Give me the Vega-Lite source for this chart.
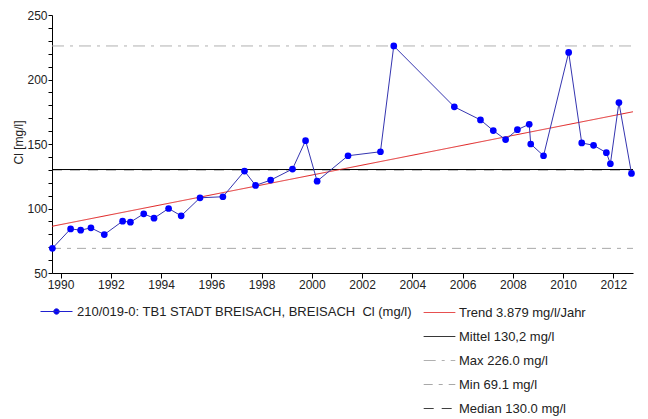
{
  "$schema": "https://vega.github.io/schema/vega-lite/v6.json",
  "autosize": {"type": "none"},
  "width": 581,
  "height": 258,
  "padding": {"left": 52, "top": 15, "right": 15, "bottom": 146},
  "background": "white",
  "config": {
    "view": {"stroke": null},
    "font": "Liberation Sans",
    "axis": {"grid": false, "domainColor": "#000", "tickColor": "#000", "labelColor": "#222", "labelFontSize": 12, "labelFont": "Liberation Sans", "titleFont": "Liberation Sans", "titleFontWeight": "normal", "titleColor": "#222"},
    "legend": {"labelFont": "Liberation Sans", "labelFontSize": 13, "labelColor": "#222", "labelLimit": 600, "padding": 0, "offset": 0, "title": null}
  },
  "datasets": {
    "obs": [
      {"date": 1989.675, "v": 69.1, "s": "210/019-0: TB1 STADT BREISACH, BREISACH \u00a0Cl (mg/l)"},
      {"date": 1990.40, "v": 84.2, "s": "210/019-0: TB1 STADT BREISACH, BREISACH \u00a0Cl (mg/l)"},
      {"date": 1990.80, "v": 83.2, "s": "210/019-0: TB1 STADT BREISACH, BREISACH \u00a0Cl (mg/l)"},
      {"date": 1991.21, "v": 85.0, "s": "210/019-0: TB1 STADT BREISACH, BREISACH \u00a0Cl (mg/l)"},
      {"date": 1991.74, "v": 79.8, "s": "210/019-0: TB1 STADT BREISACH, BREISACH \u00a0Cl (mg/l)"},
      {"date": 1992.47, "v": 90.2, "s": "210/019-0: TB1 STADT BREISACH, BREISACH \u00a0Cl (mg/l)"},
      {"date": 1992.78, "v": 89.4, "s": "210/019-0: TB1 STADT BREISACH, BREISACH \u00a0Cl (mg/l)"},
      {"date": 1993.31, "v": 95.9, "s": "210/019-0: TB1 STADT BREISACH, BREISACH \u00a0Cl (mg/l)"},
      {"date": 1993.72, "v": 92.5, "s": "210/019-0: TB1 STADT BREISACH, BREISACH \u00a0Cl (mg/l)"},
      {"date": 1994.30, "v": 100.0, "s": "210/019-0: TB1 STADT BREISACH, BREISACH \u00a0Cl (mg/l)"},
      {"date": 1994.80, "v": 94.3, "s": "210/019-0: TB1 STADT BREISACH, BREISACH \u00a0Cl (mg/l)"},
      {"date": 1995.55, "v": 108.3, "s": "210/019-0: TB1 STADT BREISACH, BREISACH \u00a0Cl (mg/l)"},
      {"date": 1996.46, "v": 109.1, "s": "210/019-0: TB1 STADT BREISACH, BREISACH \u00a0Cl (mg/l)"},
      {"date": 1997.32, "v": 129.0, "s": "210/019-0: TB1 STADT BREISACH, BREISACH \u00a0Cl (mg/l)"},
      {"date": 1997.76, "v": 117.9, "s": "210/019-0: TB1 STADT BREISACH, BREISACH \u00a0Cl (mg/l)"},
      {"date": 1998.36, "v": 122.0, "s": "210/019-0: TB1 STADT BREISACH, BREISACH \u00a0Cl (mg/l)"},
      {"date": 1999.23, "v": 130.6, "s": "210/019-0: TB1 STADT BREISACH, BREISACH \u00a0Cl (mg/l)"},
      {"date": 1999.75, "v": 152.6, "s": "210/019-0: TB1 STADT BREISACH, BREISACH \u00a0Cl (mg/l)"},
      {"date": 2000.21, "v": 121.2, "s": "210/019-0: TB1 STADT BREISACH, BREISACH \u00a0Cl (mg/l)"},
      {"date": 2001.44, "v": 140.9, "s": "210/019-0: TB1 STADT BREISACH, BREISACH \u00a0Cl (mg/l)"},
      {"date": 2002.73, "v": 144.0, "s": "210/019-0: TB1 STADT BREISACH, BREISACH \u00a0Cl (mg/l)"},
      {"date": 2003.26, "v": 226.0, "s": "210/019-0: TB1 STADT BREISACH, BREISACH \u00a0Cl (mg/l)"},
      {"date": 2005.67, "v": 178.8, "s": "210/019-0: TB1 STADT BREISACH, BREISACH \u00a0Cl (mg/l)"},
      {"date": 2006.71, "v": 168.7, "s": "210/019-0: TB1 STADT BREISACH, BREISACH \u00a0Cl (mg/l)"},
      {"date": 2007.22, "v": 160.4, "s": "210/019-0: TB1 STADT BREISACH, BREISACH \u00a0Cl (mg/l)"},
      {"date": 2007.71, "v": 153.4, "s": "210/019-0: TB1 STADT BREISACH, BREISACH \u00a0Cl (mg/l)"},
      {"date": 2008.18, "v": 161.1, "s": "210/019-0: TB1 STADT BREISACH, BREISACH \u00a0Cl (mg/l)"},
      {"date": 2008.65, "v": 165.3, "s": "210/019-0: TB1 STADT BREISACH, BREISACH \u00a0Cl (mg/l)"},
      {"date": 2008.71, "v": 150.0, "s": "210/019-0: TB1 STADT BREISACH, BREISACH \u00a0Cl (mg/l)"},
      {"date": 2009.22, "v": 140.9, "s": "210/019-0: TB1 STADT BREISACH, BREISACH \u00a0Cl (mg/l)"},
      {"date": 2010.22, "v": 221.0, "s": "210/019-0: TB1 STADT BREISACH, BREISACH \u00a0Cl (mg/l)"},
      {"date": 2010.74, "v": 150.8, "s": "210/019-0: TB1 STADT BREISACH, BREISACH \u00a0Cl (mg/l)"},
      {"date": 2011.21, "v": 149.0, "s": "210/019-0: TB1 STADT BREISACH, BREISACH \u00a0Cl (mg/l)"},
      {"date": 2011.72, "v": 143.3, "s": "210/019-0: TB1 STADT BREISACH, BREISACH \u00a0Cl (mg/l)"},
      {"date": 2011.88, "v": 134.7, "s": "210/019-0: TB1 STADT BREISACH, BREISACH \u00a0Cl (mg/l)"},
      {"date": 2012.22, "v": 182.1, "s": "210/019-0: TB1 STADT BREISACH, BREISACH \u00a0Cl (mg/l)"},
      {"date": 2012.72, "v": 127.2, "s": "210/019-0: TB1 STADT BREISACH, BREISACH \u00a0Cl (mg/l)"}
    ],
    "refs": [
      {"name": "Median 130.0 mg/l", "date": 1989.66, "v": 130.0},
      {"name": "Median 130.0 mg/l", "date": 2012.78, "v": 130.0},
      {"name": "Max 226.0 mg/l", "date": 1989.66, "v": 226.0},
      {"name": "Max 226.0 mg/l", "date": 2012.78, "v": 226.0},
      {"name": "Min 69.1 mg/l", "date": 1989.66, "v": 69.1},
      {"name": "Min 69.1 mg/l", "date": 2012.78, "v": 69.1},
      {"name": "Mittel 130,2 mg/l", "date": 1989.66, "v": 130.2},
      {"name": "Mittel 130,2 mg/l", "date": 2012.78, "v": 130.2},
      {"name": "Trend 3.879 mg/l/Jahr", "date": 1989.66, "v": 86.2},
      {"name": "Trend 3.879 mg/l/Jahr", "date": 2012.78, "v": 175.0}
    ]
  },
  "encoding": {
    "x": {"field": "date", "type": "quantitative", "scale": {"domain": [1989.66, 2012.78], "nice": false, "zero": false},
      "axis": {"title": null, "values": [1990,1992,1994,1996,1998,2000,2002,2004,2006,2008,2010,2012], "format": "d", "tickSize": 5, "labelPadding": 1, "labelFlush": false}},
    "y": {"field": "v", "type": "quantitative", "scale": {"domain": [50, 250], "nice": false, "zero": false},
      "axis": {"title": "Cl [mg/l]", "titleFontSize": 12, "titleX": -34, "titleY": 127, "titleAngle": -90, "titleBaseline": "middle", "titleAlign": "center",
        "values": [50,60,70,80,90,100,110,120,130,140,150,160,170,180,190,200,210,220,230,240,250],
        "labelExpr": "(datum.value == 50 || datum.value == 100 || datum.value == 150 || datum.value == 200 || datum.value == 250) ? datum.label : ''",
        "labelOverlap": false, "labelBound": false, "tickSize": 4, "labelPadding": 1}}
  },
  "layer": [
    {
      "data": {"name": "refs"},
      "mark": {"type": "line", "strokeWidth": 1},
      "encoding": {
        "stroke": {"field": "name", "type": "nominal",
          "scale": {"domain": ["Trend 3.879 mg/l/Jahr", "Mittel 130,2 mg/l", "Max 226.0 mg/l", "Min 69.1 mg/l", "Median 130.0 mg/l"],
            "range": ["#e02020", "#000000", "#b0b0b0", "#a8a8a8", "#404040"]},
          "legend": {"orient": "none", "legendX": 371, "legendY": 281, "symbolSize": 1000, "symbolType": "stroke", "symbolStrokeWidth": 1, "rowPadding": -8.4, "labelOffset": 3}},
        "strokeDash": {"field": "name", "type": "nominal",
          "scale": {"domain": ["Trend 3.879 mg/l/Jahr", "Mittel 130,2 mg/l", "Max 226.0 mg/l", "Min 69.1 mg/l", "Median 130.0 mg/l"],
            "range": [[1, 0], [1, 0], [12, 6, 3, 6], [9, 6, 4, 6], [10, 8]]},
          "legend": {"orient": "none", "legendX": 371, "legendY": 281, "symbolSize": 1000, "symbolType": "stroke", "symbolStrokeWidth": 1, "rowPadding": -8.4, "labelOffset": 3}},
        "detail": {"field": "name"},
        "order": {"field": "date"}
      }
    },
    {
      "data": {"name": "obs"},
      "mark": {"type": "line", "strokeWidth": 1, "color": "#3535b0"},
      "encoding": {}
    },
    {
      "data": {"name": "obs"},
      "mark": {"type": "point", "filled": true, "size": 45, "opacity": 1},
      "encoding": {
        "fill": {"field": "s", "type": "nominal", "scale": {"range": ["#0000ff"]},
          "legend": {"orient": "none", "legendX": -12, "legendY": 280, "symbolSize": 1024,
            "symbolType": "M-1,0H1M-0.17,0A0.17,0.17,0,1,1,0.17,0A0.17,0.17,0,1,1,-0.17,0Z",
            "labelOffset": 4, "symbolOpacity": 1,
            "encode": {"symbols": {"update": {"fill": {"value": "#0000ff"}, "stroke": {"value": "#2020d0"}, "strokeWidth": {"value": 1}, "opacity": {"value": 1}}}}}}
      }
    }
  ]
}
